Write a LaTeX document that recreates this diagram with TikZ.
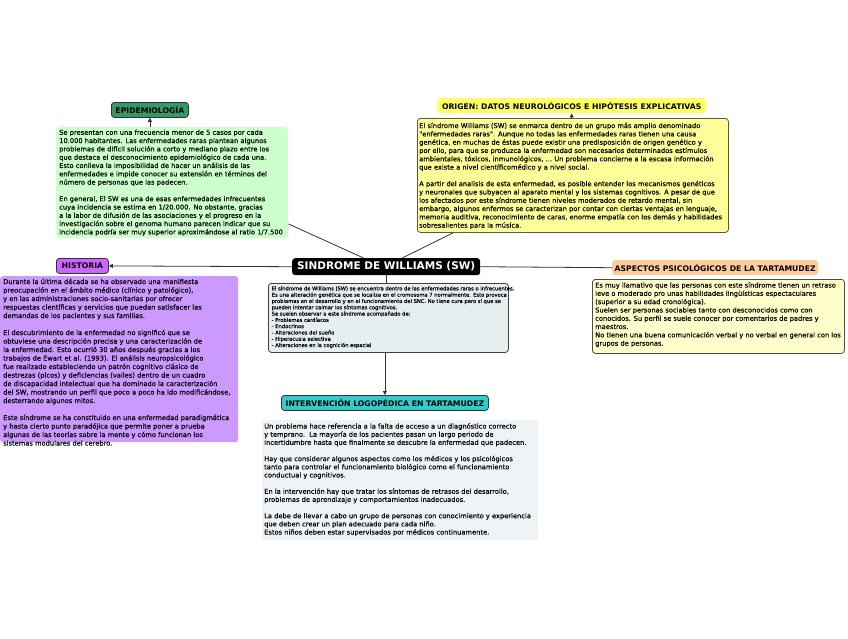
\documentclass[tikz,border=0pt]{standalone}
\usepackage{fontspec}
\setmainfont{DejaVu Sans}
\newfontfamily\bodyfont{DejaVu Sans}[FakeBold=0.2]
\usetikzlibrary{arrows.meta,calc}
\definecolor{greenfill}{HTML}{CCFFCC}
\definecolor{epifill}{HTML}{339966}
\definecolor{origfill}{HTML}{FFFF66}
\definecolor{yellowfill}{HTML}{FFFF99}
\definecolor{yellowline}{HTML}{5C5C33}
\definecolor{histfill}{HTML}{CC66FF}
\definecolor{purplefill}{HTML}{CC99FF}
\definecolor{descfill}{HTML}{E6EEF0}
\definecolor{aspfill}{HTML}{FFCC99}
\definecolor{aspboxfill}{HTML}{FFFFCC}
\definecolor{intfill}{HTML}{33CCCC}
\definecolor{intboxfill}{HTML}{EEF4F6}
\definecolor{linecol}{HTML}{333333}
\tikzset{
  box/.style={rounded corners=3pt, inner sep=0pt, anchor=north west},
  label/.style={rounded corners=3pt, inner sep=0pt, anchor=north west, font=\fontsize{7.7}{8.5}\selectfont\bfseries},
  txt/.style={align=left, inner sep=0pt, anchor=north west, font=\bodyfont\fontsize{6.7}{8.3}\selectfont},
  conn/.style={draw=linecol, line width=0.8pt},
  arr/.style={conn, -{Triangle[length=4pt,width=4pt]}}
}
\begin{document}
\begin{tikzpicture}[x=1pt,y=-1pt]
\useasboundingbox[fill=white] (0,0) rectangle (848,638);

% EPIDEMIOLOGIA
\node[label, fill=epifill, draw=black!80, line width=0.8pt, minimum width=77pt, minimum height=15pt] (epilabel) at (111,102) {EPIDEMIOLOGÍA};
\node[box, fill=greenfill, minimum width=232pt, minimum height=111pt] (green) at (56,127) {};
\node[txt] (greentxt) at (59,129.5) {Se presentan con una frecuencia menor de 5 casos por cada\\
10.000 habitantes. Las enfermedades raras plantean algunos\\
problemas de difícil solución a corto y mediano plazo entre los\\
que destaca el desconocimiento epidemiológico de cada una.\\
Esto conlleva la imposibilidad de hacer un análisis de las\\
enfermedades e impide conocer su extensión en términos del\\
número de personas que las padecen.\\[8.3pt]
En general, El SW es una de esas enfermedades infrecuentes\\
cuya incidencia se estima en 1/20.000. No obstante, gracias\\
a la labor de difusión de las asociaciones y el progreso en la\\
investigación sobre el genoma humano parecen indicar que su\\
incidencia podría ser muy superior aproximándose al ratio 1/7.500};

% ORIGEN
\node[label, fill=origfill, minimum width=269pt, minimum height=15pt] (origlabel) at (437,98) {ORIGEN: DATOS NEUROLÓGICOS E HIPÓTESIS EXPLICATIVAS};
\node[box, fill=yellowfill, draw=yellowline, line width=0.8pt, minimum width=311pt, minimum height=114pt] (yellow) at (417,118) {};
\node[txt] (yellowtxt) at (419,122.5) {El síndrome Williams (SW) se enmarca dentro de un grupo más amplio denominado\\
"enfermedades raras". Aunque no todas las enfermedades raras tienen una causa\\
genética, en muchas de éstas puede existir una predisposición de origen genético y\\
por ello, para que se produzca la enfermedad son necesarios determinados estímulos\\
ambientales, tóxicos, inmunológicos, … Un problema concierne a la escasa información\\
que existe a nivel científicomédico y a nivel social.\\[8.3pt]
A partir del analisis de esta enfermedad, es posible entender los mecanismos genéticos\\
y neuronales que subyacen al aparato mental y los sistemas cognitivos. A pesar de que\\
los afectados por este síndrome tienen niveles moderados de retardo mental, sin\\
embargo, algunos enfermos se caracterizan por contar con ciertas ventajas en lenguaje,\\
memoria auditiva, reconocimiento de caras, enorme empatía con los demás y habilidades\\
sobresalientes para la música.};

% HISTORIA
\node[label, fill=histfill, draw=black!80, line width=0.8pt, minimum width=52pt, minimum height=15pt] (histlabel) at (56,258) {HISTORIA};
\node[box, fill=purplefill, minimum width=238pt, minimum height=166pt] (purple) at (0,276) {};
\node[txt, font=\bodyfont\fontsize{6.7}{8.5}\selectfont] (purpletxt) at (3,278.5) {Durante la última década se ha observado una manifiesta\\
preocupación en el ámbito médico (clínico y patológico),\\
y en las administraciones socio-sanitarias por ofrecer\\
respuestas científicas y servicios que puedan satisfacer las\\
demandas de los pacientes y sus familias.\\[8.5pt]
El descubrimiento de la enfermedad no significó que se\\
obtuviese una descripción precisa y una caracterización de\\
la enfermedad. Esto ocurrió 30 años después gracias a los\\
trabajos de Ewart et al. (1993). El análisis neuropsicológico\\
fue realizado estableciendo un patrón cognitivo clásico de\\
destrezas (picos) y deficiencias (valles) dentro de un cuadro\\
de discapacidad intelectual que ha dominado la caracterización\\
del SW, mostrando un perfil que poco a poco ha ido modificándose,\\
desterrando algunos mitos.\\[8.5pt]
Este síndrome se ha constituido en una enfermedad paradigmática\\
y hasta cierto punto paradójica que permite poner a prueba\\
algunas de las teorías sobre la mente y cómo funcionan los\\
sistemas modulares del cerebro.};

% CENTRAL
\node[box, fill=black, text=white, minimum width=188pt, minimum height=17pt, font=\fontsize{10.5}{12}\selectfont\bfseries] (title) at (292,258) {SINDROME DE WILLIAMS (SW)};
\node[box, fill=descfill, draw=black!75, line width=0.8pt, minimum width=240pt, minimum height=69pt] (desc) at (268,283) {};
\node[txt, font=\bodyfont\fontsize{5.2}{6.3}\selectfont] (desctxt) at (271.5,286) {El síndrome de Williams (SW) se encuentra dentro de las enfermedades raras o infrecuentes.\\
Es una alteración genética que se localiza en el cromosoma 7 normalmente. Esto provoca\\
problemas en el desarrollo y en el funcionamiento del SNC. No tiene cura pero sí que se\\
pueden intentar calmar los síntomas cognitivos.\\
Se suelen observar a este síndrome acompañado de:\\
- Problemas cardíacos\\
- Endocrinos\\
- Alteraciones del sueño\\
- Hiperacusia selectiva\\
- Alteraciones en la cognición espacial};

% ASPECTOS
\node[label, fill=aspfill, minimum width=206pt, minimum height=15pt] (asplabel) at (612,260) {ASPECTOS PSICOLÓGICOS DE LA TARTAMUDEZ};
\node[box, fill=aspboxfill, draw=black!70, line width=0.8pt, minimum width=252pt, minimum height=74pt] (aspbox) at (592,279) {};
\node[txt] (asptxt) at (595,282) {Es muy llamativo que las personas con este síndrome tienen un retraso\\
leve o moderado pro unas habilidades lingüísticas espectaculares\\
(superior a su edad cronológica).\\
Suelen ser personas sociables tanto con desconocidos como con\\
conocidos. Su perfil se suele conocer por comentarios de padres y\\
maestros.\\
No tienen una buena comunicación verbal y no verbal en general con los\\
grupos de personas.};

% INTERVENCION
\node[label, fill=intfill, draw=black!80, line width=0.8pt, minimum width=207pt, minimum height=15pt] (intlabel) at (281,395) {INTERVENCIÓN LOGOPÉDICA EN TARTAMUDEZ};
\node[box, fill=intboxfill, minimum width=276pt, minimum height=120pt] (intbox) at (262,420) {};
\node[txt, font=\bodyfont\fontsize{6.7}{8.15}\selectfont] (inttxt) at (264,423) {Un problema hace referencia a la falta de acceso a un diagnóstico correcto\\
y temprano.\ \ La mayoría de los pacientes pasan un largo periodo de\\
incertidumbre hasta que finalmente se descubre la enfermedad que padecen.\\[8.15pt]
Hay que considerar algunos aspectos como los médicos y los psicológicos\\
tanto para controlar el funcionamiento biológico como el funcionamiento\\
conductual y cognitivos.\\[8.15pt]
En la intervención hay que tratar los síntomas de retrasos del desarrollo,\\
problemas de aprendizaje y comportamientos inadecuados.\\[8.15pt]
La debe de llevar a cabo un grupo de personas con conocimiento y experiencia\\
que deben crear un plan adecuado para cada niño.\\
Estos niños deben estar supervisados por médicos continuamente.};

% connectors
\draw[conn] ($(title.north west)!0.38!(title.north east)$) -- ($(green.north east)!0.87!(green.south east)$);
\draw[conn] ($(title.north west)!0.585!(title.north east)$) -- ($(yellow.south west)!0.116!(yellow.south east)$);
\draw[arr] (title.west) -- (histlabel.east);
\draw[conn] (title.east) -- (asplabel.west);
\draw[conn] (title.south) -- (title.south |- desc.north);
\draw[arr] (desc.south -| intlabel.north) -- (intlabel.north);
\draw[arr] (green.north -| epilabel.south) -- (epilabel.south);
\draw[arr] (yellow.north -| origlabel.south) -- (origlabel.south);
\end{tikzpicture}
\end{document}
